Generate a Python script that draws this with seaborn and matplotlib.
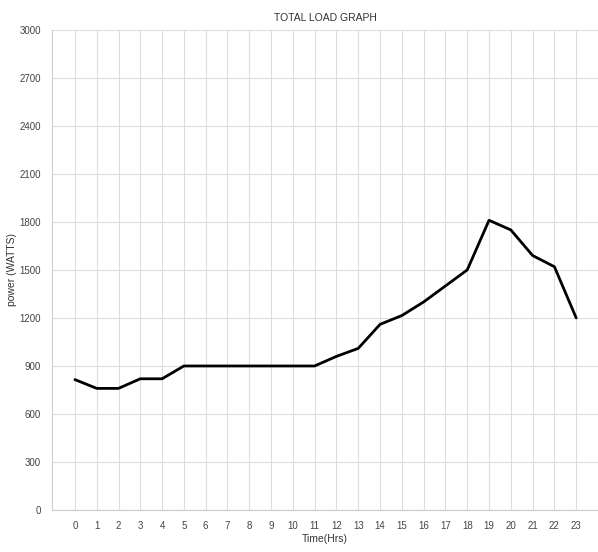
import pandas as pd
import numpy as np
import matplotlib.pyplot as plt
import seaborn as sns

hours = list(range(24))
power = [815, 760, 760, 820, 820, 900, 900, 900, 900, 900, 900, 900,
         960, 1010, 1160, 1215, 1300, 1400, 1500, 1810, 1750, 1590, 1520, 1200]
y_ticks = [0, 300, 600, 900, 1200, 1500, 1800, 2100, 2400, 2700, 3000]

df = pd.DataFrame({'hour': hours, 'power': power})

sns.set_style('whitegrid')
plt.rcParams['font.family'] = ['Liberation Sans Narrow', 'Liberation Sans', 'DejaVu Sans']

fig = plt.figure(figsize=(5.98, 5.52), dpi=100)
ax = fig.add_axes([0.087, 0.076, 0.913, 0.870])

sns.lineplot(data=df, x='hour', y='power', color='black', linewidth=2.0, ax=ax)

ax.set_xlim(-1.05, 24)
ax.set_ylim(0, 3000)
ax.set_xticks(hours)
ax.set_yticks(y_ticks)
ax.tick_params(axis='both', labelsize=7, colors='#444444', length=0, pad=8)
ax.grid(True, color='#dddddd', linewidth=0.8)

for side in ['top', 'right']:
    ax.spines[side].set_visible(False)
for side in ['left', 'bottom']:
    ax.spines[side].set_color('#cccccc')
    ax.spines[side].set_linewidth(0.8)

ax.set_title('TOTAL LOAD GRAPH', fontsize=7.5, color='#333333', pad=6)
ax.set_xlabel('Time(Hrs)', fontsize=7.5, color='#333333', labelpad=2)
ax.set_ylabel('power (WATTS)', fontsize=7.5, color='#333333', labelpad=2)

fig.savefig('out.png', dpi=100)
